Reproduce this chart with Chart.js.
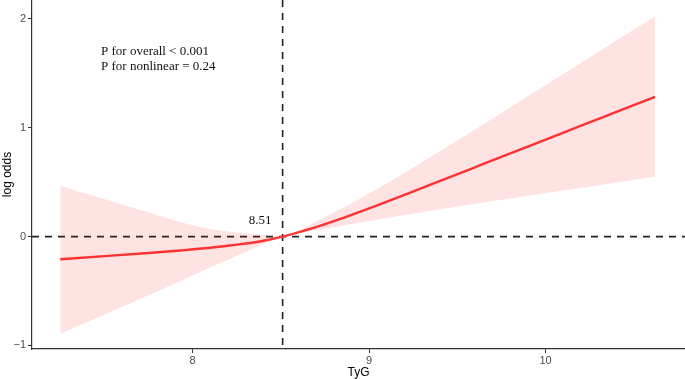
<!DOCTYPE html>
<html>
<head>
<meta charset="utf-8">
<script src="https://cdn.jsdelivr.net/npm/chart.js@4.4.1/dist/chart.umd.min.js"></script>
<style>
  html, body { margin: 0; padding: 0; background: #fff; }
  #wrap { width: 685px; height: 379px; }
</style>
</head>
<body>
<div id="wrap"><canvas id="rcsChart" width="685" height="379"></canvas></div>
<script>
// TyG values and estimated log odds with 95% CI
const tyg     = [7.25, 7.5, 7.75, 7.93, 8.1, 8.21, 8.38, 8.51, 8.68, 8.87, 9.06, 9.29, 9.52, 9.63, 9.8, 10.08, 10.3, 10.62];
const logOdds = [-0.208, -0.18, -0.151, -0.128, -0.103, -0.082, -0.045, 0, 0.077, 0.181, 0.295, 0.44, 0.586, 0.656, 0.764, 0.942, 1.081, 1.284];
const upperCI = [0.468, 0.346, 0.224, 0.135, 0.07, 0.045, 0.018, 0, 0.123, 0.279, 0.45, 0.673, 0.903, 1.015, 1.188, 1.474, 1.698, 2.024];
const lowerCI = [-0.893, -0.716, -0.539, -0.411, -0.285, -0.205, -0.085, 0, 0.051, 0.106, 0.159, 0.221, 0.281, 0.308, 0.35, 0.418, 0.472, 0.55];

const xTicks = [8, 9, 10];
const yTicks = [-1, 0, 1, 2];
const cutPoint = 8.51;
const pText = ['P for overall < 0.001', 'P for nonlinear = 0.24'];

const toPoints = (ys) => tyg.map((x, i) => ({ x: x, y: ys[i] }));

const refLines = {
  id: 'refLines',
  beforeDatasetsDraw(chart) {
    const { ctx, chartArea, scales } = chart;
    const px = scales.x.getPixelForValue(cutPoint);
    const py = scales.y.getPixelForValue(0);
    ctx.save();
    ctx.strokeStyle = '#222';
    ctx.lineWidth = 1.6;
    ctx.setLineDash([7, 6]);
    ctx.beginPath();
    ctx.moveTo(chartArea.left, py);
    ctx.lineTo(chartArea.right, py);
    ctx.stroke();
    ctx.beginPath();
    ctx.moveTo(px, chartArea.top);
    ctx.lineTo(px, chartArea.bottom);
    ctx.stroke();
    ctx.restore();
  },
  afterDatasetsDraw(chart) {
    const { ctx, scales } = chart;
    const px = scales.x.getPixelForValue(cutPoint);
    const py = scales.y.getPixelForValue(0);
    ctx.save();
    ctx.fillStyle = '#111';
    ctx.font = '13px "Liberation Serif", "Times New Roman", serif';
    ctx.textBaseline = 'middle';
    ctx.textAlign = 'right';
    ctx.fillText(cutPoint.toFixed(2), px - 11, py - 16);
    ctx.textAlign = 'left';
    ctx.fillText(pText[0], 101, 52);
    ctx.fillText(pText[1], 101, 67);
    ctx.restore();
  }
};

new Chart(document.getElementById('rcsChart'), {
  type: 'line',
  data: {
    datasets: [
      {
        label: 'upper',
        data: toPoints(upperCI),
        borderWidth: 0,
        pointRadius: 0,
        fill: false,
        cubicInterpolationMode: 'monotone'
      },
      {
        label: 'lower',
        data: toPoints(lowerCI),
        borderWidth: 0,
        pointRadius: 0,
        backgroundColor: 'rgba(255, 0, 0, 0.11)',
        fill: '-1',
        cubicInterpolationMode: 'monotone'
      },
      {
        label: 'log odds',
        data: toPoints(logOdds),
        borderColor: '#ff3838',
        borderWidth: 2.4,
        pointRadius: 0,
        fill: false,
        cubicInterpolationMode: 'monotone'
      }
    ]
  },
  options: {
    responsive: false,
    animation: false,
    layout: { padding: 0 },
    plugins: {
      legend: { display: false },
      tooltip: { enabled: false }
    },
    scales: {
      x: {
        type: 'linear',
        min: 7.09,
        max: 10.79,
        afterFit(scale) {
          scale.height = 30;
          scale.paddingLeft = 0;
          scale.paddingRight = 0;
        },
        afterBuildTicks(scale) { scale.ticks = xTicks.map(v => ({ value: v })); },
        border: { display: true, color: '#333', width: 1.2 },
        grid: { drawOnChartArea: false, drawTicks: true, tickLength: 4, color: '#333' },
        ticks: {
          color: '#4d4d4d',
          padding: 1,
          font: { family: '"Liberation Sans", Arial, sans-serif', size: 11 }
        },
        title: {
          display: true,
          text: 'TyG',
          color: '#000',
          padding: 0,
          font: { family: '"Liberation Sans", Arial, sans-serif', size: 12, lineHeight: 1.1 }
        }
      },
      y: {
        type: 'linear',
        min: -1.033,
        max: 2.174,
        afterFit(scale) {
          scale.width = 32;
          scale.paddingTop = 0;
          scale.paddingBottom = 0;
        },
        afterBuildTicks(scale) { scale.ticks = yTicks.map(v => ({ value: v })); },
        border: { display: true, color: '#333', width: 1.2 },
        grid: { drawOnChartArea: false, drawTicks: true, tickLength: 4, color: '#333' },
        ticks: {
          color: '#4d4d4d',
          padding: 2,
          font: { family: '"Liberation Sans", Arial, sans-serif', size: 11 },
          callback: (v) => (v < 0 ? '\u2212' + Math.abs(v) : String(v))
        },
        title: {
          display: true,
          text: 'log odds',
          color: '#000',
          padding: 0,
          font: { family: '"Liberation Sans", Arial, sans-serif', size: 12 }
        }
      }
    }
  },
  plugins: [refLines]
});
</script>
</body>
</html>
